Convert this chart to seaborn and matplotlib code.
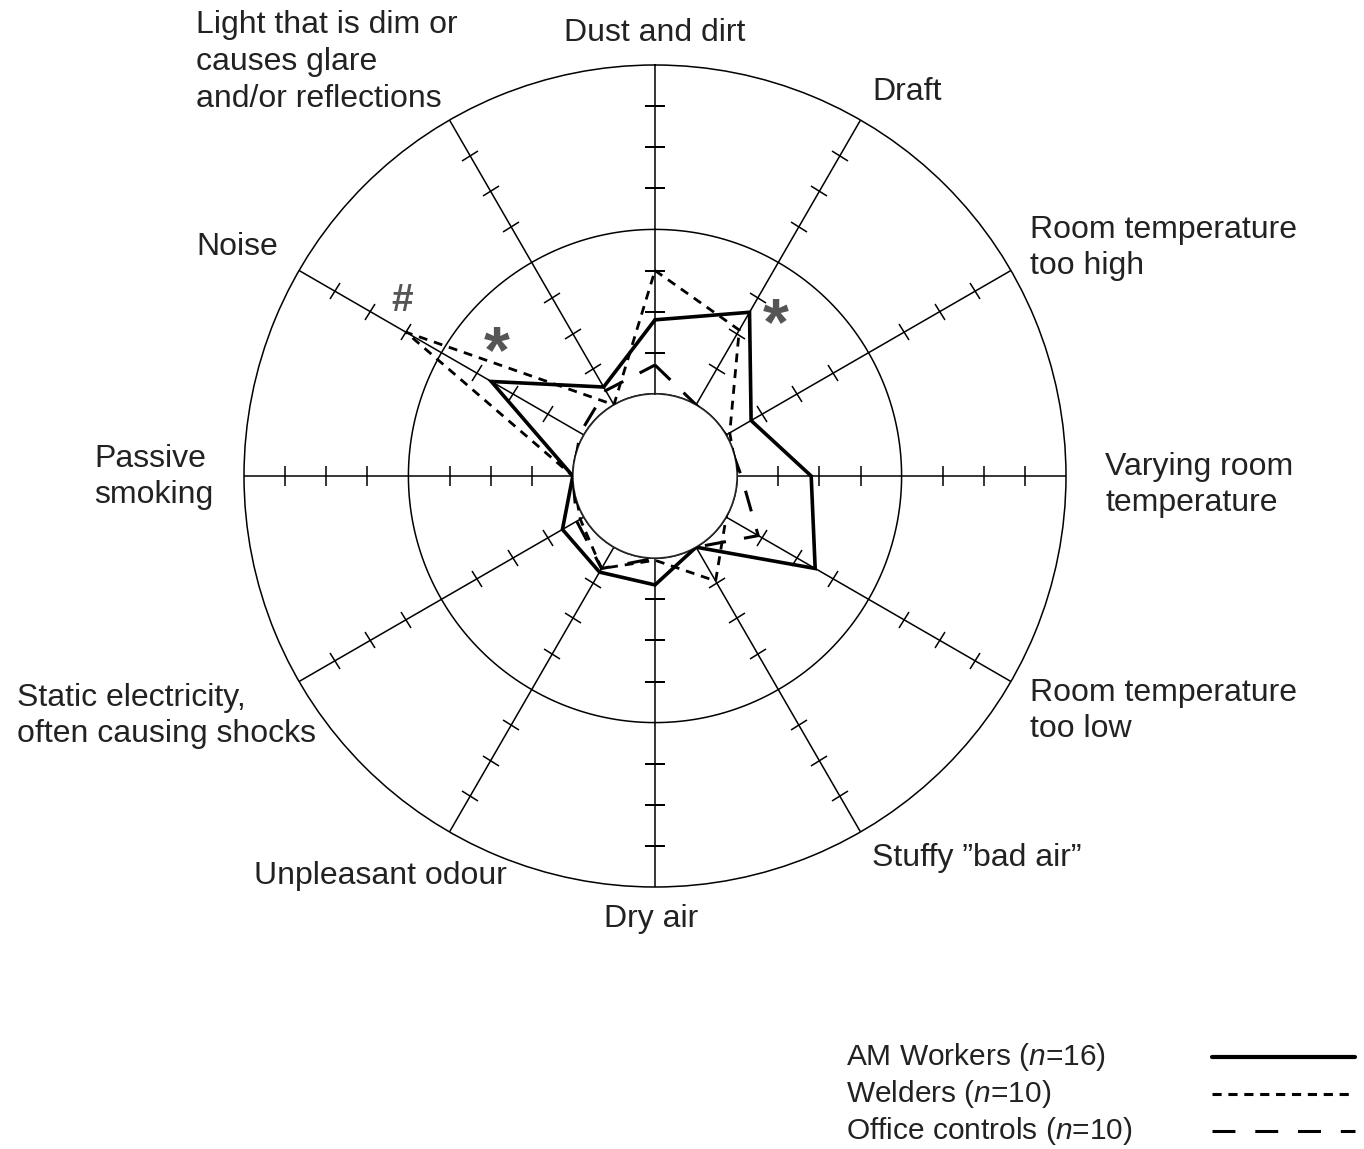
import numpy as np
import pandas as pd
import matplotlib.pyplot as plt
import seaborn as sns
from matplotlib.lines import Line2D
from matplotlib.markers import MarkerStyle
from matplotlib.transforms import Affine2D

sns.set_theme(style="white")
plt.rcParams["font.family"] = ["Liberation Sans", "DejaVu Sans"]
plt.rcParams["mathtext.fontset"] = "custom"
plt.rcParams["mathtext.rm"] = "Liberation Sans"
plt.rcParams["mathtext.it"] = "Liberation Sans:italic"

# categories clockwise from the top
categories = [
    "Dust and dirt",
    "Draft",
    "Room temperature\ntoo high",
    "Varying room\ntemperature",
    "Room temperature\ntoo low",
    "Stuffy \u201dbad air\u201d",
    "Dry air",
    "Unpleasant odour",
    "Static electricity,\noften causing shocks",
    "Passive\nsmoking",
    "Noise",
    "Light that is dim or\ncauses glare\nand/or reflections",
]
am_workers = [18, 26, 7, 18, 25, 0, 6.5, 7, 6, 0, 26, 5]
welders = [30, 21, 1, 0, 0, 9.5, 0.5, 6, 1, 0, 50, 0]
office = [7, 0, 0, 1, 9, 0, 0, 6, 2, 0, 1, 4]
group_names = [
    "AM Workers ($\\mathit{n}$=16)",
    "Welders ($\\mathit{n}$=10)",
    "Office controls ($\\mathit{n}$=10)",
]
tick_pcts = [10, 20, 30, 50, 60, 70]
ring_pcts = [0, 40]
r_max = 80
hole = 20

W, H = 1364, 1149
fig = plt.figure(figsize=(W / 100, H / 100), dpi=100)
ax = fig.add_axes([244 / W, 262 / H, 822 / W, 822 / H], projection="polar")

angles_deg = np.arange(len(categories)) * 360 / len(categories)
theta = np.deg2rad(angles_deg)

# spokes, rings and tick marks
ax.vlines(theta, 0, r_max, colors="black", linewidth=1.1, zorder=1)
circ = np.linspace(0, 2 * np.pi, 721)
for r in ring_pcts:
    ax.plot(circ, np.full_like(circ, r), color="black", linewidth=1.1, zorder=1)
for th, a in zip(theta, angles_deg):
    m = MarkerStyle("|", transform=Affine2D().rotate_deg(90 - a))
    ax.plot(np.full(len(tick_pcts), th), tick_pcts, ls="none", marker=m,
            markersize=14, markeredgewidth=1.1, color="black", zorder=1)

styles = [
    (am_workers, 2.6, "solid"),
    (welders, 2.0, (0, (3.2, 2.5))),
    (office, 2.2, (0, (7, 6))),
]
for name, (vals, lw, ls) in zip(group_names, styles):
    d = pd.DataFrame({
        "theta": np.append(theta, 2 * np.pi),
        "pct": np.append(vals, vals[0]),
    })
    sns.lineplot(data=d, x="theta", y="pct", sort=False, estimator=None,
                 color="black", linewidth=lw, linestyle=ls, label=name, ax=ax)
for ln in ax.lines[-3:]:
    ln.set_solid_joinstyle("miter")
    ln.set_dash_joinstyle("miter")
    ln.set_zorder(3)

if ax.get_legend() is not None:
    ax.get_legend().remove()

ax.set_theta_zero_location("N")
ax.set_theta_direction(-1)
ax.set_ylim(0, r_max)
ax.set_rorigin(-hole)
ax.set_xticks([])
ax.set_yticks([])
ax.grid(False)
ax.set_xlabel("")
ax.set_ylabel("")
ax.spines["polar"].set_linewidth(1.1)
ax.spines["polar"].set_color("black")
if "inner" in ax.spines:
    ax.spines["inner"].set_visible(False)

# scale labels on the right spoke
for r, dx in [(40, -5), (80, -8)]:
    ax.annotate(f"{r}%", xy=(np.pi / 2, r), xytext=(dx, 24), textcoords="offset pixels",
                ha="center", va="center", fontsize=23, color="#222222")

# significance marks
mark_kw = dict(color="#555555", fontweight="bold", ha="center", va="center",
               textcoords="offset pixels")
ax.annotate("#", xy=(np.deg2rad(305), 55), xytext=(0, -2), fontsize=28, **mark_kw)
ax.annotate("*", xy=(np.deg2rad(36), 29), xytext=(2, -14), fontsize=48, **mark_kw)
ax.annotate("*", xy=(np.deg2rad(310), 31), xytext=(2, -14), fontsize=48, **mark_kw)

# category labels (pixel layout)
label_pos = [
    (655, 33, "center"),
    (872, 92, "left"),
    (1030, 248, "left"),
    (1105, 485, "left"),
    (1030, 711, "left"),
    (872, 858, "left"),
    (651, 919, "center"),
    (507, 876, "right"),
    (17, 716, "left"),
    (94, 477, "left"),
    (196, 247, "left"),
    (196, 62, "left"),
]
for text, (x, y, ha) in zip(categories, label_pos):
    fig.text(x / W, 1 - y / H, text, ha=ha, va="center", fontsize=23,
             linespacing=1.3, color="#222222")

# key: labels on the left, line samples on the right
key_styles = [(3.0, "solid"), (2.2, (0, (3.0, 2.2))), (2.2, (0, (7.5, 6.5)))]
for i, (lab, (lw, ls)) in enumerate(zip(group_names, key_styles)):
    y = 1 - (1057 + 37 * i) / H
    fig.text(846 / W, y, lab, ha="left", va="center", fontsize=21.5, color="#222222")
    fig.add_artist(Line2D([1212 / W, 1355 / W], [y, y], transform=fig.transFigure,
                          color="black", linewidth=lw, linestyle=ls))

fig.savefig("out.png", dpi=100)
